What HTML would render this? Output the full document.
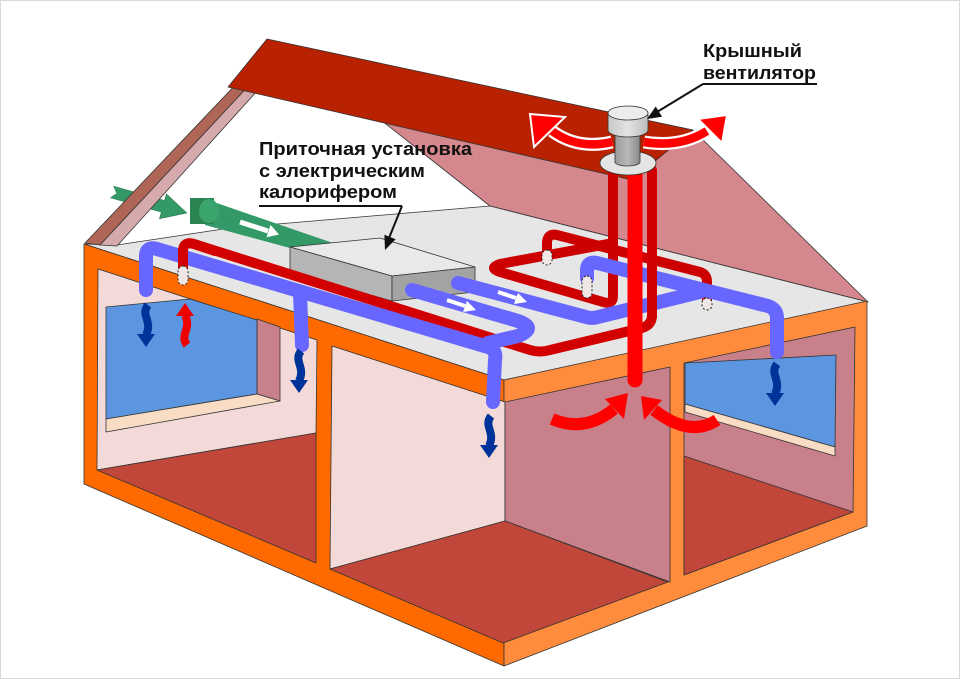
<!DOCTYPE html>
<html><head><meta charset="utf-8"><style>html,body{margin:0;padding:0;background:#fff}svg{display:block}</style></head>
<body>
<svg width="960" height="679" viewBox="0 0 960 679" xmlns="http://www.w3.org/2000/svg">
<defs>
<g id="wb">
<path d="M2,0 C-6,10 7,16 0,30" fill="none" stroke="#003399" stroke-width="8"/>
<polygon points="-9,29 9,29 0,42" fill="#003399"/>
</g>
<g id="wr">
<path d="M2,0 C-6,10 7,16 0,30" fill="none" stroke="#ee0000" stroke-width="8"/>
<polygon points="-9,29 9,29 0,42" fill="#ee0000"/>
</g>
<linearGradient id="stem" x1="0" x2="1" y1="0" y2="0">
<stop offset="0" stop-color="#9a9a9a"/><stop offset="0.5" stop-color="#b8b8b8"/><stop offset="1" stop-color="#8a8a8a"/>
</linearGradient>
<linearGradient id="cap" x1="0" x2="1" y1="0" y2="0">
<stop offset="0" stop-color="#c8c8c8"/><stop offset="0.5" stop-color="#e2e2e2"/><stop offset="1" stop-color="#bdbdbd"/>
</linearGradient>
</defs>
<rect x="0.5" y="0.5" width="959" height="678" fill="#fff" stroke="#d9d9d9"/>

<g stroke="#333" stroke-width="0.8" stroke-linejoin="round">
<!-- roof underside -->
<polygon points="372,113 693,130 868,302 490,206" fill="#d4878c"/>
<!-- attic floor -->
<polygon points="84,244 117,245 230,228 490,206 868,302 504,380" fill="#e6e6e6"/>
</g>

<!-- incoming green arrow -->
<polygon points="113.6,186.2 164.5,200.5 166.4,193.8 187,213 159.4,218.8 161.3,212.1 110.4,197.8 116.8,193.4" fill="#339966" stroke="#1f6e45" stroke-width="0.5"/>

<g stroke="#333" stroke-width="0.8" stroke-linejoin="round">
<!-- rafter -->
<polygon points="85,243 240,80 254,80 100,245" fill="#b06656"/>
<polygon points="100,245 254,80 267,80 117,246" fill="#d6aaad"/>
<!-- red roof -->
<polygon points="267,39 693,130 632,180 228,87" fill="#b92200"/>
</g>

<!-- green duct -->
<polygon points="205,199 333,243 290,248 205,225" fill="#339966"/>
<rect x="190" y="198" width="24" height="26" fill="#2a8552"/>
<ellipse cx="209" cy="211" rx="10" ry="12" fill="#3aa46c"/>
<line x1="240" y1="222" x2="268" y2="231" stroke="#fff" stroke-width="5"/>
<polygon points="279,234.5 266.5,237.3 270.5,224.9" fill="#fff"/>

<g stroke="#333" stroke-width="0.8" stroke-linejoin="round">
<!-- supply unit box -->
<polygon points="290,247 380,238 475,267 392,276" fill="#e9e9e9"/>
<polygon points="290,247 392,276 392,301 290,272" fill="#b5b5b5"/>
<polygon points="392,276 475,267 475,292 392,301" fill="#a3a3a3"/>

<!-- house faces -->
<polygon points="84,244 504,380 504,666 84,484" fill="#ff6a00"/>
<polygon points="504,380 867,301 867,526 504,666" fill="#ff8c3d"/>

<!-- left room -->
<polygon points="98,269 317,340 316,433 97,470" fill="#f3d9d7"/>
<polygon points="97,470 316,433 316,563" fill="#c0473a"/>
<polygon points="257,319 280,327 280,401 257,394" fill="#c8808a"/>
<polygon points="106,307 190,299 257,320 257,394 106,419" fill="#5c96e0"/>
<polygon points="106,419 257,394 280,401 106,432" fill="#f8dcc4"/>

<!-- middle room -->
<polygon points="332,346 505,402 505,521 330,569" fill="#f3d9d7"/>
<polygon points="505,402 670,367 670,582 505,521" fill="#c8808a"/>
<polygon points="330,569 505,521 668,582 503,643" fill="#c0473a"/>

<!-- right room -->
<polygon points="684,363 855,327 853,512 684,575" fill="#c8808a"/>
<polygon points="684,456 853,512 684,575" fill="#c0473a"/>
<polygon points="685,363 836,355 835,447 685,404" fill="#5c96e0"/>
<polygon points="685,404 835,447 835,456 685,412" fill="#f8dcc4"/>
</g>

<!-- pipes -->
<g fill="none" stroke-linecap="round" stroke-linejoin="round">
<path d="M547,256 L547,242 Q548,233 557,235 L700,272 Q707,274 707,282 L707,300" stroke="#cc0000" stroke-width="10"/>
<path d="M613,170 L613,296 Q613,305 603,302 L500,272 Q488,268 500,264 L613,243" stroke="#cc0000" stroke-width="10"/>
<path d="M183,268 L183,250 Q184,241 194,244 L530,350 Q540,353 550,350 L642,328 Q652,325 652,315 L652,170" stroke="#d20000" stroke-width="10"/>

<path d="M146,290 L146,256 Q146,246 157,249 L488,347 Q497,350 495,360 L493,402" stroke="#6767ff" stroke-width="14"/>
<path d="M300,293 L302,345" stroke="#6767ff" stroke-width="14"/>
<path d="M412,290 L518,321 Q538,328 518,336 L488,343" stroke="#6767ff" stroke-width="14"/>
<path d="M458,283 L586,317 Q592,319 598,317 L700,292" stroke="#6767ff" stroke-width="14"/>
<path d="M587,278 L587,270 Q587,261 597,263 L768,306 Q777,309 777,318 L777,352" stroke="#6767ff" stroke-width="14"/>

<path d="M183,268 L183,250 Q184,241 194,244 L215,251" stroke="#d20000" stroke-width="10"/>
<path d="M652,170 L652,318" stroke="#d20000" stroke-width="10" stroke-linecap="butt"/>
<path d="M635,168 L635,380" stroke="#ff0000" stroke-width="15"/>
</g>

<!-- dashed pipe ends -->
<g fill="#f0e6e6" stroke="#222" stroke-width="1" stroke-dasharray="2,2">
<rect x="178" y="266" width="10" height="19" rx="5"/>
<rect x="542" y="250" width="10" height="15" rx="5"/>
<rect x="582" y="276" width="10" height="22" rx="5"/>
<rect x="702" y="298" width="10" height="12" rx="5"/>
</g>

<!-- white arrows on blue ducts -->
<g fill="#fff">
<line x1="447" y1="300" x2="465" y2="306" stroke="#fff" stroke-width="4"/>
<polygon points="476,310 463,312 467,301"/>
<line x1="498" y1="292" x2="516" y2="298" stroke="#fff" stroke-width="4"/>
<polygon points="527,302 514,304 518,293"/>
</g>

<!-- wavy arrows -->
<use href="#wb" transform="translate(146,305)"/>
<use href="#wb" transform="translate(299,351)"/>
<use href="#wb" transform="translate(489,416)"/>
<use href="#wb" transform="translate(775,364)"/>
<use href="#wr" transform="translate(185,345) scale(1,-1)"/>

<!-- red arrows into exhaust -->
<path d="M552,419 Q585,433 614,409" fill="none" stroke="#ff0000" stroke-width="12"/>
<polygon points="628,393 605,399 624,419" fill="#ff0000"/>
<path d="M717,420 Q690,438 654,410" fill="none" stroke="#ff0000" stroke-width="12"/>
<polygon points="641,396 662,400 644,420" fill="#ff0000"/>

<!-- fan arrows -->
<path d="M612,142 Q578,150 552,131" fill="none" stroke="#fff" stroke-width="13"/>
<path d="M612,142 Q578,150 552,131" fill="none" stroke="#ff0000" stroke-width="8.5"/>
<polygon points="530,114 565,117 534,147" fill="#ff0000" stroke="#fff" stroke-width="2"/>
<path d="M644,142 Q680,148 707,131" fill="none" stroke="#fff" stroke-width="13"/>
<path d="M644,142 Q680,148 707,131" fill="none" stroke="#ff0000" stroke-width="8.5"/>
<polygon points="727,115 698,119 722,143" fill="#ff0000" stroke="#fff" stroke-width="2"/>

<!-- roof fan -->
<g stroke="#333" stroke-width="0.8">
<ellipse cx="628" cy="163" rx="28" ry="12" fill="#e4e4e4"/>
<path d="M615,132 L615,162 A12.5,4 0 0 0 640,162 L640,132 Z" fill="url(#stem)"/>
<path d="M608,113 L608,130 A20,7 0 0 0 648,130 L648,113 Z" fill="url(#cap)"/>
<ellipse cx="628" cy="113" rx="20" ry="7" fill="#ececec"/>
</g>

<!-- labels -->
<g font-family="'Liberation Sans', 'DejaVu Sans', sans-serif" font-weight="bold" font-size="18" fill="#111">
<text x="259" y="155" textLength="213" lengthAdjust="spacingAndGlyphs">Приточная установка</text>
<text x="259" y="177" textLength="166" lengthAdjust="spacingAndGlyphs">с электрическим</text>
<text x="259" y="198" textLength="138" lengthAdjust="spacingAndGlyphs">калорифером</text>
<text x="703" y="57" textLength="99" lengthAdjust="spacingAndGlyphs">Крышный</text>
<text x="703" y="79" textLength="113" lengthAdjust="spacingAndGlyphs">вентилятор</text>
</g>
<g stroke="#111" stroke-width="2" fill="none">
<line x1="259" y1="206" x2="402" y2="206"/>
<line x1="402" y1="206" x2="389" y2="238"/>
<line x1="703" y1="84" x2="817" y2="84"/>
<line x1="703" y1="84" x2="657" y2="112"/>
</g>
<polygon points="385,250 395.6,239.2 384.4,234.8" fill="#111"/>
<polygon points="647,119 662.1,116.7 655.7,106.5" fill="#111"/>
</svg>
</body></html>
